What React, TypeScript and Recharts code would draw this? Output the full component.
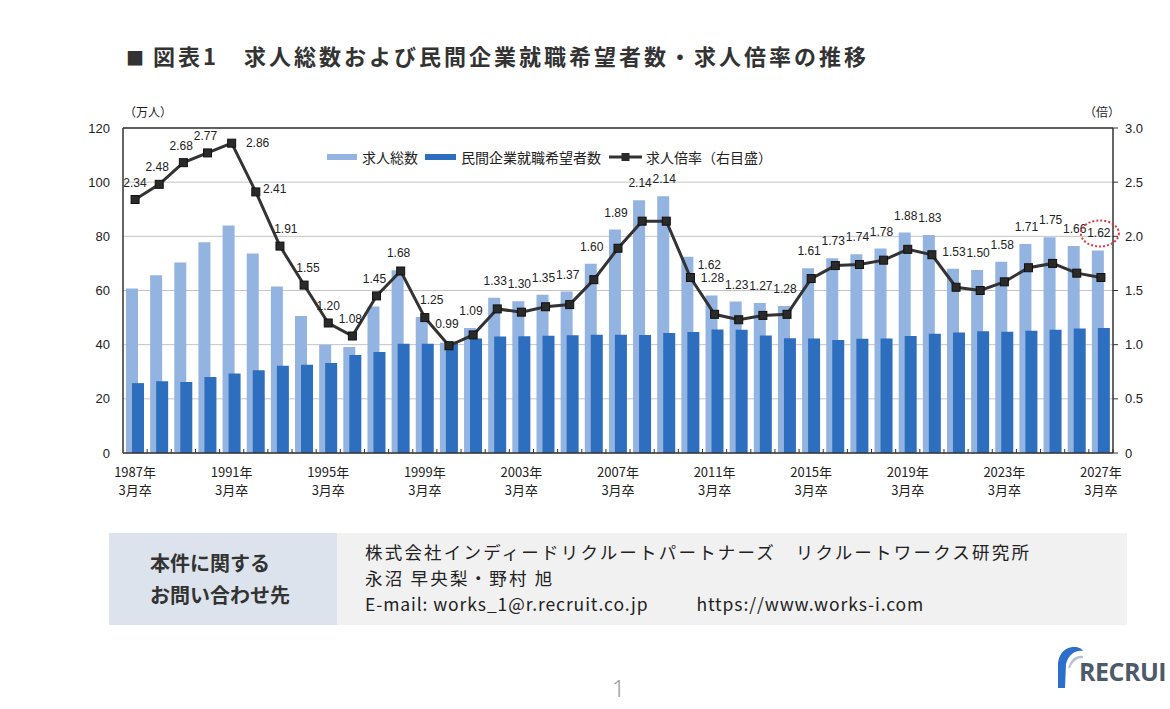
import React from "react";
import {
  ComposedChart,
  Bar,
  Line,
  XAxis,
  YAxis,
  CartesianGrid,
  ReferenceLine,
  LabelList,
} from "recharts";

// categories (graduation year, March)
const years = [
  "1987", "1988", "1989", "1990", "1991", "1992", "1993", "1994", "1995", "1996",
  "1997", "1998", "1999", "2000", "2001", "2002", "2003", "2004", "2005", "2006",
  "2007", "2008", "2009", "2010", "2011", "2012", "2013", "2014", "2015", "2016",
  "2017", "2018", "2019", "2020", "2021", "2022", "2023", "2024", "2025", "2026",
  "2027",
];

// 求人総数 (万人)
const jobOffers = [
  60.7, 65.6, 70.3, 77.8, 84.0, 73.7, 61.5, 50.6, 40.0, 39.1,
  54.1, 67.5, 50.2, 40.7, 46.2, 57.3, 56.0, 58.4, 59.6, 69.9,
  82.5, 93.3, 94.8, 72.5, 58.2, 55.9, 55.4, 54.3, 68.2, 71.9,
  73.4, 75.5, 81.4, 80.5, 68.0, 67.6, 70.6, 77.2, 79.7, 76.4,
  74.8,
];

// 民間企業就職希望者数 (万人)
const jobSeekers = [
  25.8, 26.5, 26.2, 28.1, 29.4, 30.6, 32.2, 32.6, 33.2, 36.2,
  37.3, 40.3, 40.3, 41.2, 42.3, 43.0, 43.1, 43.3, 43.5, 43.7,
  43.7, 43.6, 44.3, 44.7, 45.6, 45.5, 43.4, 42.4, 42.3, 41.7,
  42.2, 42.3, 43.2, 44.0, 44.5, 45.0, 44.8, 45.1, 45.5, 46.0,
  46.2,
];

// 求人倍率 (倍)
const offerRatio = [
  2.34, 2.48, 2.68, 2.77, 2.86, 2.41, 1.91, 1.55, 1.2, 1.08,
  1.45, 1.68, 1.25, 0.99, 1.09, 1.33, 1.3, 1.35, 1.37, 1.6,
  1.89, 2.14, 2.14, 1.62, 1.28, 1.23, 1.27, 1.28, 1.61, 1.73,
  1.74, 1.78, 1.88, 1.83, 1.53, 1.5, 1.58, 1.71, 1.75, 1.66,
  1.62,
];

const leftTicks = [0, 20, 40, 60, 80, 100, 120];
const rightTicks = [0, 0.5, 1, 1.5, 2, 2.5, 3];

const LIGHT = "#93B3E0";
const DARK = "#2E6EBF";
const INK = "#333333";
const JP = '"Noto Sans CJK JP", "Noto Sans", sans-serif';
const NUM = '"Liberation Sans Narrow", "Liberation Sans", Arial, sans-serif';

const data = years.map((y, i) => ({
  year: y,
  total: jobOffers[i],
  seekers: jobSeekers[i],
  ratio: offerRatio[i],
}));

// labels that sit beside the point instead of above it
const sideLabels: Record<number, [number, number]> = {
  4: [26, 0],
  5: [19, -3],
  23: [19, -13],
};
// small horizontal nudges for labels above a falling line
const nudge: Record<number, number> = { 6: 8, 7: 6, 8: 2, 12: 9, 0: 2 };

function RatioLabel(props: any) {
  const vb = props.viewBox || {};
  const x = props.x ?? vb.x;
  const y = props.y ?? vb.y;
  const width = props.width ?? vb.width;
  const height = props.height ?? vb.height;
  let i = props.index;
  if (i == null) i = years.indexOf(String(props.value));
  if (i < 0 || x == null) return null;

  const bottom = y + height;
  const px = height / jobOffers[i];
  const pointY = bottom - (px * 120 * offerRatio[i]) / 3;
  const barTop = bottom - px * Math.max(jobOffers[i], jobSeekers[i]);
  const cx = x + width * 0.75;

  let lx = cx - 2 + (nudge[i] ?? 0);
  let ly = Math.min(barTop, pointY) - 13;
  const side = sideLabels[i];
  if (side) {
    lx = cx + side[0];
    ly = pointY + side[1] + 4;
  }
  const text = offerRatio[i].toFixed(2);
  return (
    <g>
      <text
        x={lx}
        y={ly}
        textAnchor="middle"
        fontSize={12}
        fontFamily={NUM}
        fill="#222"
      >
        {text}
      </text>
      {i === years.length - 1 && (
        <ellipse
          cx={lx + 1}
          cy={ly - 4}
          rx={19}
          ry={13}
          fill="none"
          stroke="#E0393E"
          strokeWidth={2}
          strokeDasharray="2 2"
        />
      )}
    </g>
  );
}

function YearTick(props: any) {
  const { x, y, payload } = props;
  const half = payload?.offset ?? 12;
  const i = years.indexOf(String(payload.value));
  return (
    <g>
      <line x1={x + half} x2={x + half} y1={y} y2={y - 4} stroke={INK} />
      {i % 4 === 0 && (
        <text textAnchor="middle" fontSize={13} fontFamily={JP} fill="#222">
          <tspan x={x} y={y + 24}>{payload.value}年</tspan>
          <tspan x={x} y={y + 42}>3月卒</tspan>
        </text>
      )}
    </g>
  );
}

function SquareDot(props: any) {
  const { cx, cy } = props;
  if (cx == null || cy == null) return null;
  return (
    <rect x={cx - 4} y={cy - 4} width={8} height={8} fill="#2A2A2A" stroke="#111" strokeWidth={1} />
  );
}

function LegendBox() {
  const item: React.CSSProperties = { display: "flex", alignItems: "center" };
  return (
    <div
      style={{
        position: "absolute",
        left: 327,
        top: 147,
        display: "flex",
        alignItems: "center",
        fontFamily: JP,
        fontSize: 14,
        color: "#222",
        lineHeight: "20px",
      }}
    >
      <div style={item}>
        <span style={{ width: 30, height: 6, background: LIGHT, marginRight: 5 }} />
        <span>求人総数</span>
      </div>
      <div style={{ ...item, marginLeft: 7 }}>
        <span style={{ width: 31, height: 6, background: DARK, marginRight: 5 }} />
        <span>民間企業就職希望者数</span>
      </div>
      <div style={{ ...item, marginLeft: 8 }}>
        <svg width={33} height={12} style={{ marginRight: 4 }}>
          <line x1={0} x2={33} y1={6} y2={6} stroke={INK} strokeWidth={3} />
          <rect x={12.5} y={2} width={8} height={8} fill="#2A2A2A" />
        </svg>
        <span>求人倍率（右目盛）</span>
      </div>
    </div>
  );
}

export default function App() {
  return (
    <div
      style={{
        position: "fixed",
        left: 0,
        top: 0,
        width: 1170,
        height: 709,
        background: "#fff",
        overflow: "hidden",
        fontFamily: JP,
      }}
    >
      {/* title */}
      <div
        style={{
          position: "absolute",
          top: 40,
          left: 126,
          fontSize: 22,
          fontWeight: 700,
          color: "#333",
          whiteSpace: "nowrap",
          lineHeight: "30px",
        }}
      >
        <span style={{ fontSize: 18, marginRight: 9 }}>■</span>
        <span style={{ letterSpacing: 3 }}>
          図表1　求人総数および民間企業就職希望者数・求人倍率の推移
        </span>
      </div>

      <div style={{ position: "absolute", left: 124, top: 103, fontSize: 12, color: "#222" }}>
        （万人）
      </div>
      <div style={{ position: "absolute", left: 1084, top: 103, fontSize: 12, color: "#222" }}>
        （倍）
      </div>

      <div style={{ position: "absolute", left: 0, top: 0 }}>
        <ComposedChart
          width={1170}
          height={520}
          data={data}
          margin={{ top: 128, right: 17, left: 73, bottom: 22 }}
          barGap={-6}
        >
          <CartesianGrid yAxisId="left" vertical={false} stroke="#C4C4C4" />
          <XAxis
            dataKey="year"
            interval={0}
            height={45}
            tickLine={false}
            tickSize={0}
            tickMargin={0}
            axisLine={{ stroke: INK, strokeWidth: 1.5 }}
            tick={<YearTick />}
          />
          <YAxis
            yAxisId="left"
            width={50}
            domain={[0, 120]}
            ticks={leftTicks}
            tickLine={false}
            tickSize={0}
            tickMargin={13}
            axisLine={{ stroke: INK, strokeWidth: 1.5 }}
            tick={{ fontSize: 13, fill: "#222", fontFamily: NUM }}
          />
          <YAxis
            yAxisId="right"
            orientation="right"
            width={40}
            domain={[0, 3]}
            ticks={rightTicks}
            tickSize={5}
            tickMargin={7}
            tickLine={{ stroke: INK }}
            axisLine={{ stroke: INK, strokeWidth: 1.5 }}
            tick={{ fontSize: 13, fill: "#222", fontFamily: NUM }}
            tickFormatter={(v: number) => (v === 0 ? "0" : v.toFixed(1))}
          />
          <ReferenceLine yAxisId="left" y={120} stroke={INK} strokeWidth={1.5} />
          <Bar yAxisId="left" dataKey="total" fill={LIGHT} barSize={12} isAnimationActive={false}>
            <LabelList dataKey="year" content={<RatioLabel />} />
          </Bar>
          <Bar yAxisId="left" dataKey="seekers" fill={DARK} barSize={12} isAnimationActive={false} />
          <Line
            yAxisId="right"
            dataKey="ratio"
            stroke={INK}
            strokeWidth={3}
            dot={<SquareDot />}
            activeDot={false}
            isAnimationActive={false}
          />
        </ComposedChart>
      </div>

      <LegendBox />

      {/* contact box */}
      <div
        style={{
          position: "absolute",
          left: 109,
          top: 533,
          width: 1018,
          height: 92,
          display: "flex",
        }}
      >
        <div
          style={{
            width: 228,
            background: "#DDE3EC",
            display: "flex",
            flexDirection: "column",
            justifyContent: "center",
            paddingLeft: 41,
            boxSizing: "border-box",
            fontSize: 20,
            fontWeight: 700,
            color: "#333",
            lineHeight: "32px",
          }}
        >
          <div>本件に関する</div>
          <div>お問い合わせ先</div>
        </div>
        <div
          style={{
            flex: 1,
            background: "#F1F1F1",
            paddingLeft: 28,
            paddingTop: 6,
            boxSizing: "border-box",
            fontSize: 17.5,
            color: "#222",
            lineHeight: "26px",
            whiteSpace: "nowrap",
          }}
        >
          <div style={{ letterSpacing: 2.2 }}>
            株式会社インディードリクルートパートナーズ　リクルートワークス研究所
          </div>
          <div style={{ letterSpacing: 2.2 }}>永沼 早央梨・野村 旭</div>
          <div style={{ letterSpacing: 0.9 }}>
            E-mail: works_1@r.recruit.co.jp<span style={{ display: "inline-block", width: 48 }} />
            https://www.works-i.com
          </div>
        </div>
      </div>

      {/* page number */}
      <div
        style={{
          position: "absolute",
          left: 612,
          top: 672,
          fontSize: 23,
          color: "#9A9A9A",
          fontWeight: 300,
          fontFamily: '"Noto Sans", sans-serif',
        }}
      >
        1
      </div>

      {/* logo (cut by the page edge in the original) */}
      <svg style={{ position: "absolute", left: 1052, top: 644 }} width={32} height={48}>
        <path
          d="M6 44 L6 22 C6 8 15 3 22 3 C27 3 30 5 31 7 C25 6 17 9 14 20 L13 44 Z"
          fill="#2B6FCB"
        />
        <path d="M16 24 C19 14 25 11 31 12 L31 14 C26 14 21 17 18 24 Z" fill="#B9C3CF" />
      </svg>
      <div
        style={{
          position: "absolute",
          left: 1079,
          top: 654,
          fontSize: 25,
          fontWeight: 700,
          color: "#4D5A69",
          fontFamily: '"Open Sans", sans-serif',
          letterSpacing: -0.5,
          whiteSpace: "nowrap",
        }}
      >
        RECRUI
      </div>
    </div>
  );
}
